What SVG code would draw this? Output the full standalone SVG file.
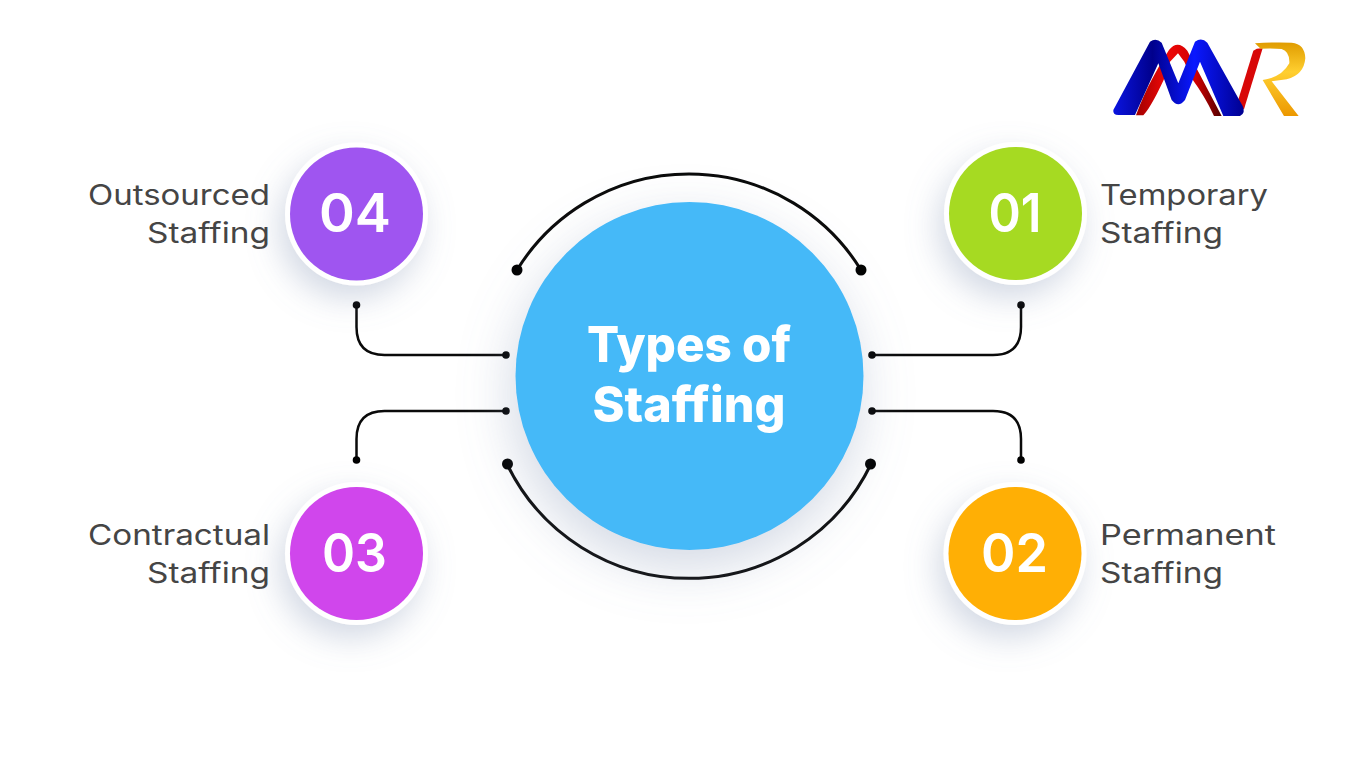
<svg xmlns="http://www.w3.org/2000/svg" width="1366" height="768" viewBox="0 0 1366 768">
  <style>
    .lbl { font-family: "Inter", "Liberation Sans", sans-serif; font-size: 28px; font-weight: 400; fill: #454545; }
    .num { font-family: "Inter", "Liberation Sans", sans-serif; font-size: 53px; font-weight: 600; fill: #ffffff; text-anchor: middle; }
    .ttl { font-family: "Inter", "Liberation Sans", sans-serif; font-size: 50px; font-weight: 800; fill: #ffffff; text-anchor: middle; }
    .ring { fill: #ffffff; filter: url(#sh); }
    .wire { fill: none; stroke: #0a0a0a; stroke-width: 2.5; }
    .arc { fill: none; stroke: #0a0a0a; stroke-width: 3; }
    .dot { fill: #000000; }
  </style>
  <defs>
    <filter id="sh" x="-60%" y="-60%" width="220%" height="220%">
      <feDropShadow dx="-6" dy="13" stdDeviation="16" flood-color="#7f8fb0" flood-opacity="0.34"/>
    </filter>
    <filter id="shBig" x="-40%" y="-40%" width="180%" height="180%">
      <feDropShadow dx="-4" dy="18" stdDeviation="26" flood-color="#7f8fb0" flood-opacity="0.34"/>
    </filter>
    <linearGradient id="blue" x1="0" y1="0" x2="1" y2="0">
      <stop offset="0" stop-color="#0a14e0"/><stop offset="0.3" stop-color="#00008c"/><stop offset="0.62" stop-color="#0a18ff"/><stop offset="1" stop-color="#000090"/>
    </linearGradient>
    <linearGradient id="red" x1="0" y1="0" x2="1" y2="0">
      <stop offset="0" stop-color="#a00000"/><stop offset="0.35" stop-color="#f00808"/><stop offset="0.7" stop-color="#d00000"/><stop offset="1" stop-color="#500000"/>
    </linearGradient>
    <linearGradient id="gold" x1="0" y1="0" x2="0" y2="1">
      <stop offset="0" stop-color="#e09c00"/><stop offset="0.4" stop-color="#ffcf30"/><stop offset="1" stop-color="#ec9800"/>
    </linearGradient>
  </defs>
  <rect width="1366" height="768" fill="#ffffff"/>

  <g id="logo" transform="translate(1090 20) scale(0.3333)">
    <path fill="url(#red)" d="M138 286C170 200 200 150 237 90Q263 58 292 92L395 288H372C352 245 330 210 305 175L283 125L264 100L240 125L222 178C205 215 180 265 160 286Z"/>
    <path fill="#d80808" d="M440 255L490 92Q500 84 518 85L462 268Z"/>
    <path fill="url(#gold)" d="M495 70Q550 66 605 68Q645 72 646 115Q642 165 590 178L545 184L626 288H582L518 180Q575 172 598 130Q600 95 575 87Q545 84 512 86Z"/>
    <path fill="url(#blue)" d="M70 270Q68 285 85 285H135L205 130L245 240Q265 265 285 240L330 125L400 288H450Q468 280 458 258L352 68Q335 50 315 65L265 190L215 68Q198 52 180 65Z"/>
  </g>

  <g id="connectors">
    <path class="arc" d="M517 270A202 202 0 0 1 861 270"/>
    <path class="arc" d="M507 464A202 202 0 0 0 871 464"/>
    <path class="wire" d="M1021 305V327Q1021 355 993 355H872"/>
    <path class="wire" d="M1021 460V439Q1021 411 993 411H872"/>
    <path class="wire" d="M356.500 460V439Q356.500 411 384.500 411H506"/>
    <path class="wire" d="M356.500 305V327Q356.500 355 384.500 355H506"/>
    <circle class="dot" cx="517" cy="270" r="5.500"/>
    <circle class="dot" cx="861" cy="270" r="5.500"/>
    <circle class="dot" cx="507.500" cy="464" r="5.500"/>
    <circle class="dot" cx="870.500" cy="464" r="5.500"/>
    <circle class="dot" cx="1021" cy="305" r="3.800"/>
    <circle class="dot" cx="872" cy="355" r="3.800"/>
    <circle class="dot" cx="1021" cy="460" r="3.800"/>
    <circle class="dot" cx="872" cy="411" r="3.800"/>
    <circle class="dot" cx="356.500" cy="460" r="3.800"/>
    <circle class="dot" cx="506" cy="411" r="3.800"/>
    <circle class="dot" cx="356.500" cy="305" r="3.800"/>
    <circle class="dot" cx="506" cy="355" r="3.800"/>
  </g>

  <g id="center">
    <circle cx="689.500" cy="376" r="174" fill="#45b9f8" filter="url(#shBig)"/>
    <text class="ttl" x="689" y="362" textLength="204" lengthAdjust="spacingAndGlyphs">Types of</text>
    <text class="ttl" x="689" y="422" textLength="193" lengthAdjust="spacingAndGlyphs">Staffing</text>
  </g>

  <g id="node-01">
    <circle class="ring" cx="1015.500" cy="213.500" r="71.500"/>
    <circle cx="1015.500" cy="213.500" r="66.500" fill="#a6da22"/>
    <text class="num" x="1015" y="232" textLength="53" lengthAdjust="spacingAndGlyphs">01</text>
    <text class="lbl" x="1100" y="205" textLength="168" lengthAdjust="spacingAndGlyphs">Temporary</text>
    <text class="lbl" x="1100" y="243" textLength="123" lengthAdjust="spacingAndGlyphs">Staffing</text>
  </g>
  <g id="node-02">
    <circle class="ring" cx="1015" cy="553.500" r="71.500"/>
    <circle cx="1015" cy="553.500" r="66.500" fill="#ffaf05"/>
    <text class="num" x="1014.500" y="572" textLength="67" lengthAdjust="spacingAndGlyphs">02</text>
    <text class="lbl" x="1100" y="545" textLength="176" lengthAdjust="spacingAndGlyphs">Permanent</text>
    <text class="lbl" x="1100" y="583" textLength="123" lengthAdjust="spacingAndGlyphs">Staffing</text>
  </g>
  <g id="node-03">
    <circle class="ring" cx="356.500" cy="553.500" r="71.500"/>
    <circle cx="356.500" cy="553.500" r="66.500" fill="#d046ec"/>
    <text class="num" x="354.500" y="572" textLength="65" lengthAdjust="spacingAndGlyphs">03</text>
    <text class="lbl" x="88" y="545" textLength="182" lengthAdjust="spacingAndGlyphs">Contractual</text>
    <text class="lbl" x="147" y="583" textLength="123" lengthAdjust="spacingAndGlyphs">Staffing</text>
  </g>
  <g id="node-04">
    <circle class="ring" cx="356.500" cy="214" r="71.500"/>
    <circle cx="356.500" cy="214" r="66.500" fill="#9f55f0"/>
    <text class="num" x="355" y="232" textLength="72" lengthAdjust="spacingAndGlyphs">04</text>
    <text class="lbl" x="88" y="205" textLength="182" lengthAdjust="spacingAndGlyphs">Outsourced</text>
    <text class="lbl" x="147" y="243" textLength="123" lengthAdjust="spacingAndGlyphs">Staffing</text>
  </g>
</svg>
